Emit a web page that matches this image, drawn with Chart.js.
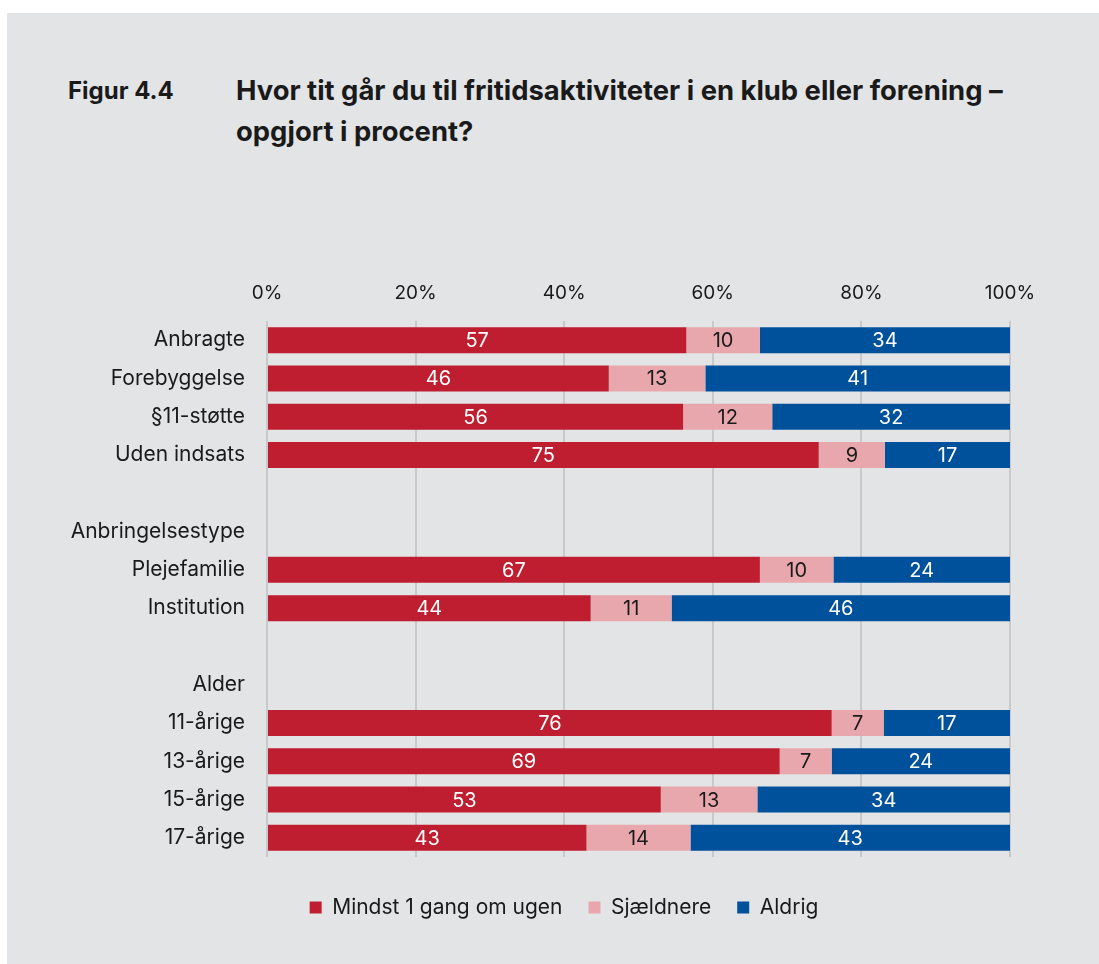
<!DOCTYPE html>
<html>
<head>
<meta charset="utf-8">
<script src="https://cdn.jsdelivr.net/npm/chart.js@4/dist/chart.umd.min.js"></script>
<style>
  html, body { margin: 0; padding: 0; background: #ffffff; }
  body { width: 1099px; height: 964px; position: relative; overflow: hidden; font-family: Inter, "Noto Sans", sans-serif; }
  #panel { position: absolute; left: 7px; top: 13px; right: 0; bottom: 0; background: #e3e4e6; }
  .t { position: absolute; font-weight: 700; color: #1a1a1a; white-space: nowrap; line-height: 41px; }
  #fig { left: 68px; top: 70px; font-size: 24px; }
  #title { left: 236px; top: 70px; font-size: 27.4px; }
  #wrap { position: absolute; left: 0; top: 0; width: 1099px; height: 964px; }
</style>
</head>
<body>
<div id="panel"></div>
<div class="t" id="fig">Figur 4.4</div>
<div class="t" id="title">Hvor tit går du til fritidsaktiviteter i en klub eller forening –<br>opgjort i procent?</div>
<div id="wrap"><canvas id="c" width="1099" height="964"></canvas></div>
<script>
const categories = ["Anbragte", "Forebyggelse", "§11-støtte", "Uden indsats", "", "Anbringelsestype", "Plejefamilie", "Institution", "", "Alder", "11-årige", "13-årige", "15-årige", "17-årige"];
const mindst1Gang = [57, 46, 56, 75, null, null, 67, 44, null, null, 76, 69, 53, 43];
const sjaeldnere  = [10, 13, 12, 9, null, null, 10, 11, null, null, 7, 7, 13, 14];
const aldrig      = [34, 41, 32, 17, null, null, 24, 46, null, null, 17, 24, 34, 43];
const seriesNames = ["Mindst 1 gang om ugen", "Sjældnere", "Aldrig"];
const tickLabels = ["0%", "20%", "40%", "60%", "80%", "100%"];

const raw = [mindst1Gang, sjaeldnere, aldrig];
const totals = categories.map((_, i) => raw.reduce((s, a) => s + (a[i] == null ? 0 : a[i]), 0));
const share = a => a.map((v, i) => v == null ? null : v / totals[i] * 100);

const colors = ["#be1e2f", "#e8a7ac", "#00519c"];
const labelColors = ["#ffffff", "#1a1a1a", "#ffffff"];
const FONT = "Inter, 'Noto Sans', sans-serif";

const valueLabels = {
  id: "valueLabels",
  afterDatasetsDraw(chart) {
    const ctx = chart.ctx;
    ctx.save();
    ctx.font = "20px " + FONT;
    ctx.textAlign = "center";
    ctx.textBaseline = "middle";
    chart.data.datasets.forEach((ds, di) => {
      const meta = chart.getDatasetMeta(di);
      meta.data.forEach((bar, i) => {
        const v = raw[di][i];
        if (v == null) return;
        const cx = (bar.x + bar.base) / 2;
        ctx.fillStyle = labelColors[di];
        ctx.fillText(String(v), cx, bar.y + 1);
      });
    });
    ctx.restore();
  }
};

const legendPlace = {
  id: "legendPlace",
  afterLayout(chart) {
    const lg = chart.legend;
    if (!lg) return;
    const h = lg.bottom - lg.top;
    const want = 907 - 26 - 10;
    lg.top = want;
    lg.bottom = want + h;
    lg.left += 59;
    lg.right += 59;
  }
};

new Chart(document.getElementById("c"), {
  type: "bar",
  data: {
    labels: categories,
    datasets: raw.map((arr, k) => ({
      label: seriesNames[k],
      data: share(arr),
      backgroundColor: colors[k],
      borderWidth: 0,
      barPercentage: 0.68,
      categoryPercentage: 1.0
    }))
  },
  options: {
    indexAxis: "y",
    responsive: false,
    animation: false,
    layout: { padding: { left: 0, right: 89, top: 0, bottom: 50 } },
    scales: {
      x: {
        position: "top",
        stacked: true,
        min: 0, max: 100,
        grid: { color: "#c9c9cb", lineWidth: 2, drawTicks: false },
        border: { display: false },
        afterFit(scale) { scale.height = 321; },
        afterBuildTicks(scale) { scale.ticks = tickLabels.map((_, i) => ({ value: i * 20 })); },
        ticks: {
          callback: (v, i) => tickLabels[i],
          color: "#1a1a1a",
          font: { family: FONT, size: 19 },
          padding: 16
        }
      },
      y: {
        stacked: true,
        grid: { display: false },
        border: { display: false },
        afterFit(scale) { scale.width = 267; },
        ticks: {
          color: "#1a1a1a",
          font: { family: FONT, size: 21 },
          padding: 14,
          autoSkip: false
        }
      }
    },
    plugins: {
      legend: {
        position: "bottom",
        labels: {
          boxWidth: 12, boxHeight: 12,
          color: "#1a1a1a",
          font: { family: FONT, size: 21 },
          padding: 26
        }
      },
      tooltip: { enabled: false }
    }
  },
  plugins: [valueLabels, legendPlace]
});
</script>
</body>
</html>
